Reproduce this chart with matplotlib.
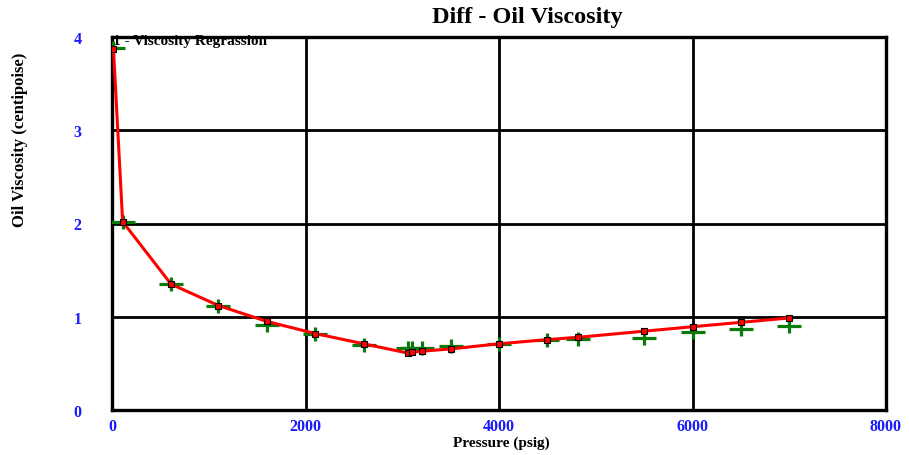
import matplotlib.pyplot as plt
import numpy as np
from matplotlib.path import Path

# Pressure (psig) and oil viscosity (centipoise)
pressure = [15, 110, 610, 1100, 1600, 2100, 2600, 3060, 3100, 3200,
            3500, 4000, 4500, 4820, 5500, 6000, 6500, 7000]
visc_regression = [3.87, 2.02, 1.35, 1.12, 0.95, 0.82, 0.71, 0.61, 0.62, 0.63,
                   0.655, 0.71, 0.755, 0.78, 0.845, 0.893, 0.94, 0.987]
visc_measured = [3.88, 2.02, 1.35, 1.12, 0.915, 0.82, 0.70, 0.66, 0.67, 0.67,
                 0.69, 0.71, 0.755, 0.76, 0.77, 0.835, 0.87, 0.90]

x_ticks = [0, 2000, 4000, 6000, 8000]
y_ticks = [0, 1, 2, 3, 4]

plt.rcParams['font.family'] = ['Liberation Serif', 'DejaVu Serif']
plt.rcParams['font.weight'] = 'bold'

# wide plus sign, like the original's data markers
plus = Path([(-1, 0), (1, 0), (0, -0.6), (0, 0.6)],
            [Path.MOVETO, Path.LINETO, Path.MOVETO, Path.LINETO])

fig = plt.figure(figsize=(9.09, 4.56), dpi=100)
ax = fig.add_axes([112 / 909, 1 - 411 / 456, (886 - 112) / 909, (411 - 38) / 456])

ax.plot(pressure, visc_measured, linestyle='none', marker=plus, markersize=17.5,
        markeredgewidth=2.3, color='#0a7a0a', zorder=3)
ax.plot(pressure, visc_regression, color='#ff0000', linewidth=2.2, marker='s',
        markersize=4, markerfacecolor='#ff0000', markeredgecolor='black',
        markeredgewidth=0.8, zorder=4)

ax.set_xlim(0, 8000)
ax.set_ylim(0, 4)
ax.set_xticks(x_ticks)
ax.set_yticks(y_ticks)
ax.grid(True, color='black', linewidth=2.0)
ax.set_axisbelow(True)
for s in ax.spines.values():
    s.set_linewidth(2.4)
    s.set_color('black')
ax.tick_params(length=0, labelsize=11.5, labelcolor='#1a1aff')
ax.tick_params(axis='y', pad=22)
ax.tick_params(axis='x', pad=6)
for lbl in ax.get_xticklabels() + ax.get_yticklabels():
    lbl.set_fontweight('bold')

# series label sits under the top frame line, so its top gets clipped by it
ax.text(0.001, 1 - 4 / 373, '1 - Viscosity Regrassion', transform=ax.transAxes,
        ha='left', va='center', fontsize=11, fontweight='bold', zorder=2)

fig.text(527 / 909, 1 - 17 / 456, 'Diff - Oil Viscosity', ha='center', va='center',
         fontsize=17.5, fontweight='bold')
fig.text(501 / 909, 1 - 443 / 456, 'Pressure (psig)', ha='center', va='center',
         fontsize=11, fontweight='bold')
fig.text(20 / 909, 1 - 140 / 456, 'Oil Viscosity (centipoise)', ha='center',
         va='center', rotation=90, fontsize=12, fontweight='bold')

fig.savefig('out.png', dpi=100)
